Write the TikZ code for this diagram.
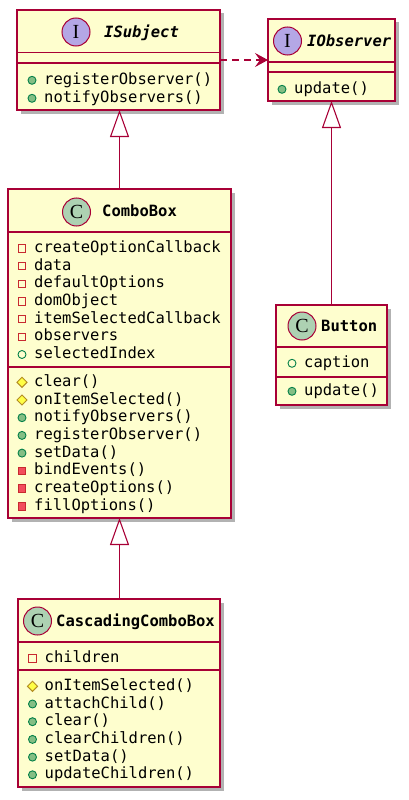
\documentclass[tikz,border=0pt]{standalone}
\usepackage{fontspec}
\setmonofont{DejaVu Sans Mono}
\newfontfamily\circfont{Liberation Serif}
\usetikzlibrary{arrows.meta,shapes.geometric,shadows}
\definecolor{bord}{HTML}{A80036}
\definecolor{boxf}{HTML}{FEFECE}
\definecolor{ifill}{HTML}{B4A7E5}
\definecolor{cfill}{HTML}{ADD1B2}
\definecolor{privc}{HTML}{C82930}
\definecolor{privf}{HTML}{F24D5C}
\definecolor{pubc}{HTML}{038048}
\definecolor{pubf}{HTML}{84BE84}
\definecolor{protc}{HTML}{B38D22}
\definecolor{protf}{HTML}{FFFF44}
\newcommand\mrow[5]{%
  \node[#4] (#1i) at (#2-12,#3-4) {};
  \node[mem] (#1) at (#2,#3) {#5};}
\begin{document}
\begin{tikzpicture}[x=1pt,y=-1pt,
  cls/.style={draw=bord,fill=boxf,line width=1.4pt,inner sep=0pt,outer sep=0pt,
    anchor=north west,drop shadow={shadow xshift=3.5pt,shadow yshift=-3.5pt,opacity=0.3,fill=black}},
  sepl/.style={draw=bord,line width=1.4pt},
  mem/.style={anchor=base west,inner sep=0pt,font=\ttfamily\fontsize{15.5}{18}\selectfont},
  ttl/.style={anchor=base west,inner sep=0pt,font=\ttfamily\bfseries\fontsize{15.5}{18}\selectfont},
  circ/.style={circle,draw=bord,line width=1pt,minimum size=28pt,inner sep=0pt,
    font=\circfont\fontsize{20}{20}\selectfont},
  privA/.style={rectangle,draw=privc,fill=boxf,line width=0.9pt,minimum size=7.5pt,inner sep=0pt},
  privM/.style={privA,fill=privf},
  pubA/.style={circle,draw=pubc,fill=boxf,line width=0.9pt,minimum size=8pt,inner sep=0pt},
  pubM/.style={pubA,fill=pubf},
  protM/.style={diamond,draw=protc,fill=protf,line width=0.9pt,minimum size=10.5pt,inner sep=0pt},
  inh/.style={draw=bord,line width=1.1pt,-{Triangle[open,length=27pt,width=19pt]}},
  dep/.style={draw=bord,line width=1.1pt,dash pattern=on 7pt off 5pt,
    -{Stealth[length=13pt,width=14pt,inset=5pt]}}
]
\useasboundingbox (0,0) rectangle (408,800);

% ISubject
\node[cls,minimum width=203pt,minimum height=100pt] (isub) at (17,10) {};
\draw[sepl] (17,52.5) -- (220,52.5);
\draw[sepl] (17,63) -- (220,63);
\node[circ,fill=ifill] (isubc) at (76,32) {I};
\node[ttl,font=\ttfamily\bfseries\itshape\fontsize{15.5}{18}\selectfont] (isubt) at (104,37.6) {ISubject};
\mrow{ism1}{44}{84.3}{pubM}{registerObserver()}
\mrow{ism2}{44}{102.3}{pubM}{notifyObservers()}

% IObserver
\node[cls,minimum width=127pt,minimum height=82pt] (iobs) at (268,19) {};
\draw[sepl] (268,62) -- (395,62);
\draw[sepl] (268,72) -- (395,72);
\node[circ,fill=ifill] (iobsc) at (287.5,41) {I};
\node[ttl,font=\ttfamily\bfseries\itshape\fontsize{15.5}{18}\selectfont] (iobst) at (307,46.5) {IObserver};
\mrow{iom1}{294}{93.3}{pubM}{update()}

% ComboBox
\node[cls,minimum width=223pt,minimum height=329pt] (cb) at (8,189) {};
\draw[sepl] (8,232) -- (231,232);
\draw[sepl] (8,367) -- (231,367);
\node[circ,fill=cfill] (cbc) at (76.5,212) {C};
\node[ttl] (cbt) at (102,216.7) {ComboBox};
\mrow{cba1}{34}{252.3}{privA}{createOptionCallback}
\mrow{cba2}{34}{270.0}{privA}{data}
\mrow{cba3}{34}{287.7}{privA}{defaultOptions}
\mrow{cba4}{34}{305.4}{privA}{domObject}
\mrow{cba5}{34}{323.1}{privA}{itemSelectedCallback}
\mrow{cba6}{34}{340.8}{privA}{observers}
\mrow{cba7}{34}{358.5}{pubA}{selectedIndex}
\mrow{cbm1}{34}{386.3}{protM}{clear()}
\mrow{cbm2}{34}{404.0}{protM}{onItemSelected()}
\mrow{cbm3}{34}{421.7}{pubM}{notifyObservers()}
\mrow{cbm4}{34}{439.4}{pubM}{registerObserver()}
\mrow{cbm5}{34}{457.1}{pubM}{setData()}
\mrow{cbm6}{34}{474.8}{privM}{bindEvents()}
\mrow{cbm7}{34}{492.5}{privM}{createOptions()}
\mrow{cbm8}{34}{510.2}{privM}{fillOptions()}

% Button
\node[cls,minimum width=111pt,minimum height=100pt] (btn) at (276,305) {};
\draw[sepl] (276,347) -- (387,347);
\draw[sepl] (276,377) -- (387,377);
\node[circ,fill=cfill] (btnc) at (302,326) {C};
\node[ttl] (btnt) at (321,331.7) {Button};
\mrow{bta1}{304}{367.3}{pubA}{caption}
\mrow{btm1}{304}{395.3}{pubM}{update()}

% CascadingComboBox
\node[cls,minimum width=202pt,minimum height=188pt] (ccb) at (18,599) {};
\draw[sepl] (18,642) -- (220,642);
\draw[sepl] (18,670) -- (220,670);
\node[circ,fill=cfill] (ccbc) at (37.5,621) {C};
\node[ttl] (ccbt) at (56,626) {CascadingComboBox};
\mrow{cca1}{44.5}{662.3}{privA}{children}
\mrow{ccm1}{44.5}{690.3}{protM}{onItemSelected()}
\mrow{ccm2}{44.5}{708.0}{pubM}{attachChild()}
\mrow{ccm3}{44.5}{725.7}{pubM}{clear()}
\mrow{ccm4}{44.5}{743.4}{pubM}{clearChildren()}
\mrow{ccm5}{44.5}{761.1}{pubM}{setData()}
\mrow{ccm6}{44.5}{778.8}{pubM}{updateChildren()}

% connectors
\draw[dep] (isub.east) -- (iobs.west);
\draw[inh] (cb.north) -- (cb.north |- isub.south);
\draw[inh] (btn.north) -- (btn.north |- iobs.south);
\draw[inh] (ccb.north -| cb.south) -- (cb.south);
\end{tikzpicture}
\end{document}
